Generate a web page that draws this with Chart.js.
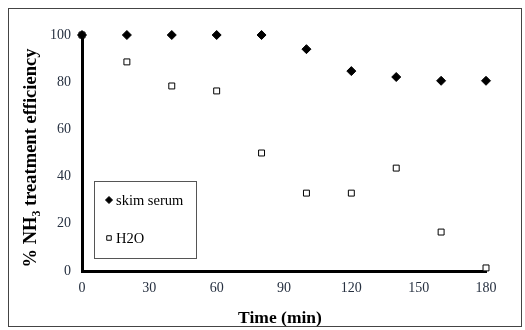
<!DOCTYPE html>
<html>
<head>
<meta charset="utf-8">
<script src="https://cdn.jsdelivr.net/npm/chart.js@4"></script>
<style>
  body { margin: 0; background: #fff; }
  #wrap { width: 525px; height: 330px; position: relative; }
</style>
</head>
<body>
<div id="wrap"><canvas id="chart" width="525" height="330"></canvas></div>
<script>
const times = [0, 20, 40, 60, 80, 100, 120, 140, 160, 180];
const skimSerum = [100, 100, 100, 100, 100, 94, 84.7, 82.2, 80.6, 80.6];
const h2o = [100, 88.6, 78.4, 76.3, 50, 33, 33, 43.6, 16.5, 1.3];
const xTicks = [0, 30, 60, 90, 120, 150, 180];
const yTicks = [0, 20, 40, 60, 80, 100];
const serif = "'Liberation Serif', 'Times New Roman', serif";

function toPoints(ys){
  return times.map((t, i) => ({x: t, y: ys[i]}));
}

// frame, axis titles and the legend box inside the plot
const extras = {
  id: 'extras',
  afterDraw(chart){
    const ctx = chart.ctx;
    const area = chart.chartArea;
    ctx.save();
    ctx.strokeStyle = '#444';
    ctx.lineWidth = 1;
    ctx.strokeRect(8.5, 8.5, 513, 318);

    // x title
    ctx.fillStyle = '#000';
    ctx.font = 'bold 17.5px ' + serif;
    ctx.textAlign = 'center';
    ctx.textBaseline = 'middle';
    ctx.fillText('Time (min)', 280, 318);

    // y title with subscript
    ctx.translate(31, 158);
    ctx.rotate(-Math.PI / 2);
    const parts = [['% NH', 18.5, 0], ['3', 12, 6], [' treatment efficiency', 18.5, 0]];
    let total = 0;
    parts.forEach(p => { ctx.font = 'bold ' + p[1] + 'px ' + serif; total += ctx.measureText(p[0]).width; });
    let x = -total / 2;
    ctx.textAlign = 'left';
    parts.forEach(p => {
      ctx.font = 'bold ' + p[1] + 'px ' + serif;
      ctx.fillText(p[0], x, p[2]);
      x += ctx.measureText(p[0]).width;
    });
    ctx.restore();

    // legend
    ctx.save();
    ctx.strokeStyle = '#555';
    ctx.lineWidth = 1;
    ctx.strokeRect(94.5, 181.5, 102, 77);
    ctx.textBaseline = 'middle';
    ctx.textAlign = 'left';
    chart.data.datasets.forEach((ds, i) => {
      const y = i === 0 ? 200 : 238;
      ctx.fillStyle = ds.pointBackgroundColor;
      ctx.strokeStyle = ds.pointBorderColor;
      ctx.lineWidth = ds.borderWidth;
      Chart.helpers.drawPoint(ctx, {
        pointStyle: ds.pointStyle, radius: ds.pointRadius - 1, rotation: 0,
        borderWidth: ds.borderWidth
      }, 109, y);
      ctx.fillStyle = '#000';
      ctx.font = '14.5px ' + serif;
      ctx.fillText(ds.label, 116, y + 1);
    });
    ctx.restore();
  }
};

new Chart(document.getElementById('chart'), {
  type: 'scatter',
  data: {
    datasets: [
      {
        label: 'skim serum',
        data: toPoints(skimSerum),
        pointStyle: 'rectRot',
        pointRadius: 4.5,
        pointBackgroundColor: '#000',
        pointBorderColor: '#000',
        borderWidth: 1,
        backgroundColor: '#000',
        borderColor: '#000'
      },
      {
        label: 'H2O',
        data: toPoints(h2o),
        pointStyle: 'rect',
        pointRadius: 4.2,
        pointBackgroundColor: '#fff',
        pointBorderColor: '#000',
        borderWidth: 1,
        backgroundColor: '#fff',
        borderColor: '#000'
      }
    ]
  },
  options: {
    responsive: false,
    animation: false,
    clip: false,
    layout: { padding: { top: 35, right: 39, left: 0, bottom: 0 } },
    plugins: { legend: { display: false }, tooltip: { enabled: false } },
    scales: {
      x: {
        type: 'linear',
        min: 0, max: 180,
        afterBuildTicks: s => { s.ticks = xTicks.map(v => ({value: v})); },
        grid: { display: false, drawTicks: false },
        border: { display: true, color: '#000', width: 3 },
        ticks: { color: '#263040', font: { family: serif, size: 14 }, padding: 9 },
        afterFit: s => { s.height = 59; }
      },
      y: {
        min: 0, max: 100,
        afterBuildTicks: s => { s.ticks = yTicks.map(v => ({value: v})); },
        grid: { display: false, drawTicks: false },
        border: { display: true, color: '#000', width: 3 },
        ticks: { color: '#263040', font: { family: serif, size: 14 }, padding: 11 },
        afterFit: s => { s.width = 82; }
      }
    }
  },
  plugins: [extras]
});
</script>
</body>
</html>
